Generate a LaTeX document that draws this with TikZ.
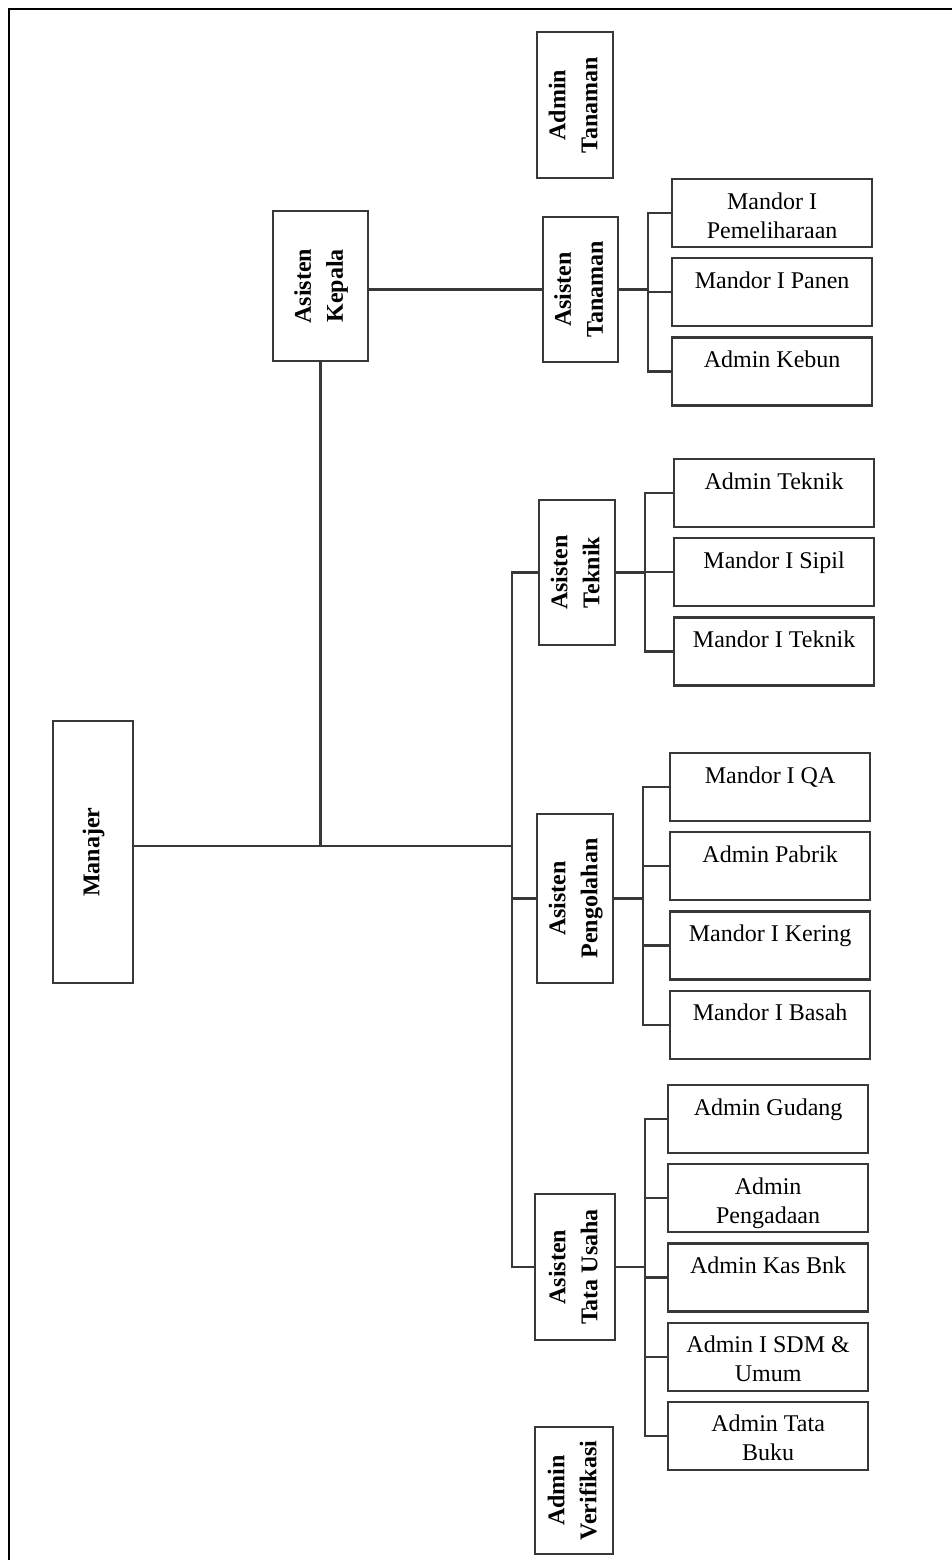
\documentclass[tikz,border=0pt]{standalone}
\usepackage{fontspec}
\setmainfont{Liberation Serif}
\usepackage{graphicx}
\usetikzlibrary{positioning}
\definecolor{boxgray}{HTML}{383838}
\newcommand{\rottext}[1]{\rotatebox{90}{\bfseries\renewcommand{\arraystretch}{1.1}\begin{tabular}{@{}c@{}}#1\end{tabular}}}
\newcommand{\kidtext}[1]{\parbox[c][62pt][t]{196pt}{\centering\rule{0pt}{27pt}#1\par}}

\begin{document}
\begin{tikzpicture}[x=1pt,y=-1pt]
\tikzset{every node/.style={font=\fontsize{24}{29}\selectfont},
  boss/.style={draw=boxgray,line width=2.2pt,inner sep=0pt},
  kid/.style={draw=boxgray,line width=2.2pt,inner xsep=2pt,inner ysep=3pt},
  wire/.style={draw=boxgray,line width=2.2pt}}
\useasboundingbox (0,0) rectangle (952,1560);
\draw[line width=2.4pt] (9,1560) -- (9,9) -- (952,9);
% assistants
\node[boss,minimum width=76,minimum height=146](admTanaman) at (575,105){\rottext{Admin\\Tanaman}};
\node[boss,minimum width=95,minimum height=150](kepala) at (320.5,286){\rottext{Asisten\\Kepala}};
\node[boss,minimum width=75,minimum height=145](astTanaman) at (580.5,289.5){\rottext{Asisten\\Tanaman}};
\node[boss,minimum width=80,minimum height=262](manajer) at (93,852){\rottext{Manajer}};
\node[boss,minimum width=76,minimum height=145](astTeknik) at (577,572.5){\rottext{Asisten\\Teknik}};
\node[boss,minimum width=76,minimum height=169](astOlah) at (575,898.5){\rottext{Asisten\\Pengolahan}};
\node[boss,minimum width=80,minimum height=146](astTU) at (575,1267){\rottext{Asisten\\Tata Usaha}};
\node[boss,minimum width=78,minimum height=127](admVerif) at (574,1490.5){\rottext{Admin\\Verifikasi}};
% tanaman
\node[kid,anchor=north west](pelihara) at (671,178){\kidtext{Mandor I\\Pemeliharaan}};
\node[kid](panen)[below=9pt of pelihara]{\kidtext{Mandor I Panen}};
\node[kid](kebun)[below=9pt of panen]{\kidtext{Admin Kebun}};
% teknik
\node[kid,anchor=north west](admTeknik) at (673,458){\kidtext{Admin Teknik}};
\node[kid](sipil)[below=9pt of admTeknik]{\kidtext{Mandor I Sipil}};
\node[kid](mTeknik)[below=9pt of sipil]{\kidtext{Mandor I Teknik}};
% pengolahan
\node[kid,anchor=north west](qa) at (669,752){\kidtext{Mandor I QA}};
\node[kid](pabrik)[below=9pt of qa]{\kidtext{Admin Pabrik}};
\node[kid](kering)[below=9pt of pabrik]{\kidtext{Mandor I Kering}};
\node[kid](basah)[below=9pt of kering]{\kidtext{Mandor I Basah}};
% tata usaha
\node[kid,anchor=north west](gudang) at (667,1084){\kidtext{Admin Gudang}};
\node[kid](pengadaan)[below=9pt of gudang]{\kidtext{Admin\\Pengadaan}};
\node[kid](kas)[below=9pt of pengadaan]{\kidtext{Admin Kas Bnk}};
\node[kid](sdm)[below=9pt of kas]{\kidtext{Admin I SDM \&\\Umum}};
\node[kid](tatabuku)[below=9pt of sdm]{\kidtext{Admin Tata\\Buku}};
% lines
\coordinate (trunk) at (512,846);
\draw[wire](manajer.east |- trunk) -- (trunk);
\draw[wire](kepala.south) -- (kepala.south |- trunk);
\draw[wire](kepala.east |- astTanaman.west) -- (astTanaman.west);
\draw[wire](astTeknik.west) -| (trunk) |- (astTU.west);
\draw[wire](astOlah.west) -- (astOlah.west -| trunk);
\foreach \p/\kids in {astTanaman/{pelihara,panen,kebun},astTeknik/{admTeknik,sipil,mTeknik},
  astOlah/{qa,pabrik,kering,basah},astTU/{gudang,pengadaan,kas,sdm,tatabuku}}{
  \draw[wire](\p.east) -- ++(29,0) coordinate (bus);
  \foreach \k in \kids {\draw[wire](bus) |- (\k.west);}
}
\end{tikzpicture}
\end{document}
